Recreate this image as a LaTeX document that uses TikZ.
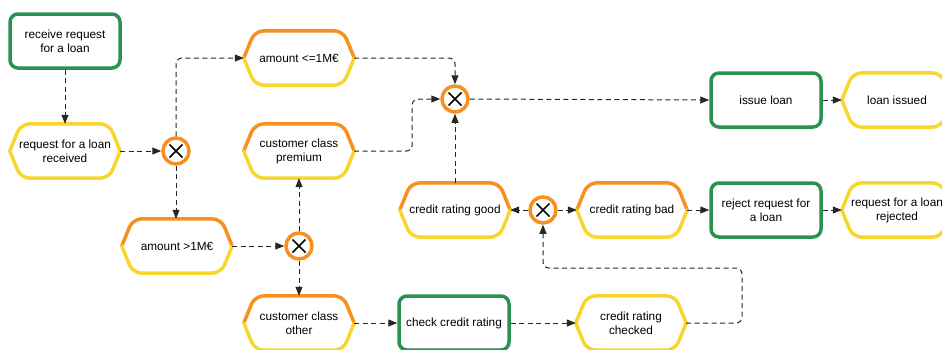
\documentclass[tikz,border=0pt]{standalone}
\usepackage{fontspec}
\setmainfont{Liberation Sans}
\usetikzlibrary{arrows.meta}
\definecolor{epcgreen}{RGB}{42,145,80}
\definecolor{epcorange}{RGB}{247,144,30}
\definecolor{epcyellow}{RGB}{249,214,46}
\tikzset{
  base/.style={rectangle,minimum width=110pt,minimum height=54pt,inner sep=0pt,align=center,
    font=\fontsize{11.8pt}{14pt}\selectfont},
  func/.style={base,draw=epcgreen,line width=3.5pt,rounded corners=8pt},
  evt/.style={base},
  hexline/.style={line width=3.5pt,rounded corners=9pt,line cap=round},
  xor/.style={circle,draw=epcorange,fill=white,line width=3.5pt,minimum size=26pt,inner sep=0pt,
    path picture={\draw[black,line width=1.6pt] (path picture bounding box.center) +(-6.5pt,-6.5pt) -- +(6.5pt,6.5pt) +(-6.5pt,6.5pt) -- +(6.5pt,-6.5pt);}},
  flow/.style={draw=black!85,line width=1pt,dash pattern=on 5pt off 3.5pt,rounded corners=6pt,
    -{Triangle[length=9pt,width=7pt]}}
}
\newcommand\hexout[3]{%
  \draw[hexline,#2] (#1.west) -- ([xshift=11pt]#1.north west) -- ([xshift=-11pt]#1.north east) -- (#1.east);
  \draw[hexline,#3] (#1.west) -- ([xshift=11pt]#1.south west) -- ([xshift=-11pt]#1.south east) -- (#1.east);}
\begin{document}
\begin{tikzpicture}[x=1pt,y=-1pt]
\useasboundingbox (0,0) rectangle (942,349);
\node[func] (recv) at (65,41) {receive request\\for a loan};
\node[evt] (rrecv) at (65,151) {request for a loan\\received};
\node[xor] (x1) at (176,151) {};
\node[evt] (amt1) at (299,58) {amount <=1M€};
\node[evt] (prem) at (299,151) {customer class\\premium};
\node[evt] (amt2) at (177,246) {amount >1M€};
\node[xor] (x2) at (299,246) {};
\node[evt] (other) at (299,323) {customer class\\other};
\node[xor] (x3) at (455,99) {};
\node[evt] (good) at (455,210) {credit rating good};
\node[xor] (x4) at (543,210) {};
\node[evt] (bad) at (632,210) {credit rating bad};
\node[func] (reject) at (766,210) {reject request for\\a loan};
\node[evt] (rejected) at (897,210) {request for a loan\\rejected};
\node[func] (issue) at (766,100) {issue loan};
\node[evt] (issued) at (897,100) {loan issued};
\node[func] (check) at (454,323) {check credit rating};
\node[evt] (checked) at (631,323) {credit rating\\checked};
\coordinate (c1) at (742,268);

\hexout{rrecv}{epcyellow}{epcyellow}
\hexout{amt1}{epcorange}{epcyellow}
\hexout{prem}{epcorange}{epcyellow}
\hexout{amt2}{epcorange}{epcyellow}
\hexout{other}{epcorange}{epcyellow}
\hexout{good}{epcorange}{epcyellow}
\hexout{bad}{epcorange}{epcyellow}
\hexout{rejected}{epcyellow}{epcyellow}
\hexout{issued}{epcyellow}{epcyellow}
\hexout{checked}{epcyellow}{epcyellow}

\path[flow] (recv.south) -- (rrecv.north);
\path[flow] (rrecv.east) -- (x1.west);
\path[flow] (x1.north) |- (amt1.west);
\path[flow] (x1.south) -- (x1.south |- amt2.north);
\path[flow] (amt2.east) -- (x2.west);
\path[flow] (x2.north) -- (prem.south);
\path[flow] (x2.south) -- (other.north);
\path[flow] (amt1.east) -| (x3.north);
\path[flow] (prem.east) -- ++(58,0) |- (x3.west);
\path[flow] (good.north) -- (x3.south);
\path[flow] (x3.east) -- (issue.west);
\path[flow] (issue.east) -- (issued.west);
\path[flow] (x4.west) -- (good.east);
\path[flow] (x4.east) -- (bad.west);
\path[flow] (bad.east) -- (reject.west);
\path[flow] (reject.east) -- (rejected.west);
\path[flow] (other.east) -- (check.west);
\path[flow] (check.east) -- (checked.west);
\path[flow] (checked.east) -| (c1) -| (x4.south);
\end{tikzpicture}
\end{document}
